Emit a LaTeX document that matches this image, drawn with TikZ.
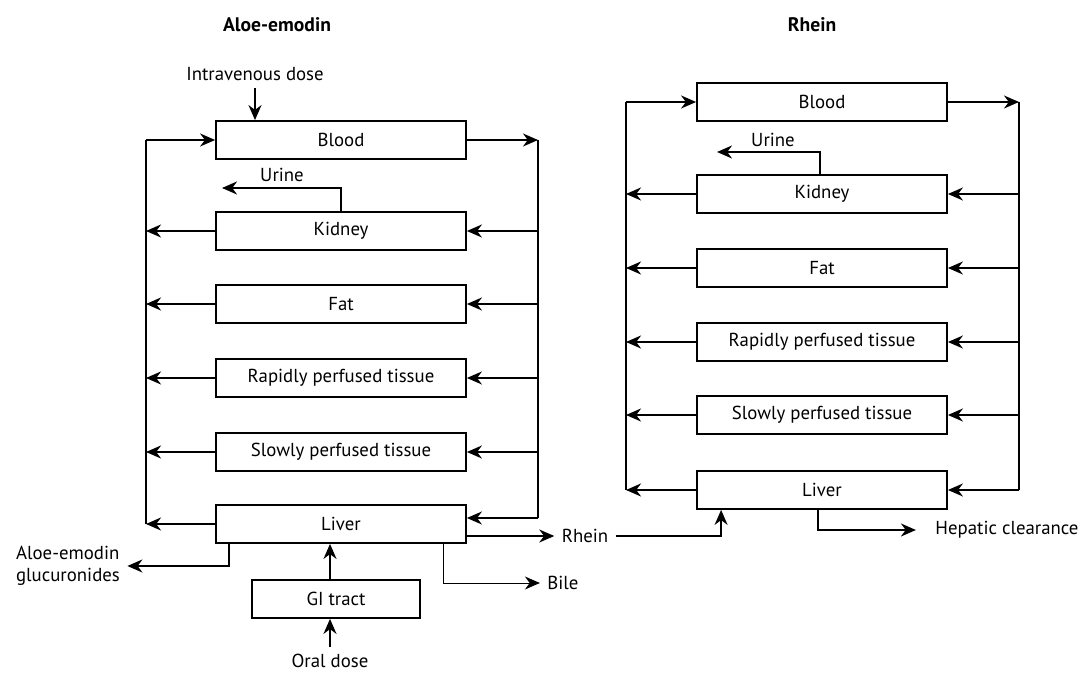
\documentclass[tikz,border=0pt]{standalone}
\usepackage{fontspec}
\setmainfont{PT Sans}
\usetikzlibrary{calc,arrows.meta}

\begin{document}
\begin{tikzpicture}[x=0.5pt,y=-0.5pt,line width=0.9pt,
  font=\fontsize{9.4}{11.2}\selectfont,
  organ/.style={draw,minimum width=125pt,minimum height=19pt,inner sep=0pt},
  flow/.style={-{Stealth[length=7.5pt,width=6.5pt,inset=2.4pt]}}]
  \useasboundingbox (0,0) rectangle (1081,673);

  % Titles
  \node[font=\fontsize{9.8}{11.2}\selectfont\bfseries] (titleA) at (277,25) {Aloe-emodin};
  \node[font=\fontsize{9.8}{11.2}\selectfont\bfseries] (titleB) at (812,25) {Rhein};

  % Define the compartments of both models
  \foreach \name/\y [count=\i] in {Blood/140,Kidney/231,Fat/304,
      Rapidly perfused tissue/378,Slowly perfused tissue/452,Liver/524} {
    \node[organ] (A\i) at (341,\y) {\name};
  }
  \foreach \name/\y [count=\i] in {Blood/102,Kidney/194,Fat/268,
      Rapidly perfused tissue/342,Slowly perfused tissue/415,Liver/490} {
    \node[organ] (B\i) at (822,\y) {\name};
  }

  % Define the ends of the venous and arterial lines
  \coordinate (LA) at (146,140);
  \coordinate (RA) at (538,140);
  \coordinate (LB) at (626,102);
  \coordinate (RB) at (1019,102);

  % Draw the lines
  \draw (LA) -- (LA |- A6.east);
  \draw (RA) -- ([yshift=3pt]RA |- A6.east);
  \draw (LB) -- (LB |- B6.east);
  \draw (RB) -- (RB |- B6.east);

  % Draw the flows through blood and the tissues
  \draw[flow] (LA) -- (A1.west);
  \draw[flow] (A1.east) -- (RA);
  \draw[flow] (LB) -- (B1.west);
  \draw[flow] (B1.east) -- (RB);
  \foreach \i in {2,...,6} {
    \draw[flow] (A\i.west) -- (A\i.west -| LA);
    \draw[flow] (B\i.west) -- (B\i.west -| LB);
    \draw[flow] (B\i.east -| RB) -- (B\i.east);
  }
  \foreach \i in {2,...,5}
    \draw[flow] (A\i.east -| RA) -- (A\i.east);
  \draw[flow] ([yshift=3pt]A6.east -| RA) -- ([yshift=3pt]A6.east);

  % Urine
  \node (urineA) at (282,175) {Urine};
  \node (urineB) at (773,140) {Urine};
  \coordinate (UA) at (222,188);
  \coordinate (UB) at (717,152);
  \draw[flow] (A2.north) |- (UA);
  \draw[flow] ([xshift=-1pt]B2.north) |- (UB);

  % Doses
  \node (iv) at (255,74) {Intravenous dose};
  \draw[flow] (iv.south) -- (iv.south |- A1.north);
  \node[draw,minimum width=84pt,minimum height=19pt,inner sep=0pt] (gi) at (336,599) {GI tract};
  \node (oral) at (330,661) {Oral dose};
  \draw[flow] (oral.north) -- (oral.north |- gi.south);
  \draw[flow] ([xshift=-3pt]gi.north) -- ([xshift=-3pt]gi.north |- A6.south);

  % Elimination from the liver
  \node[align=left] (glu) at (68,566) {Aloe-emodin\\glucuronides};
  \draw[flow] ([xshift=7pt]A6.south west) |- (glu.east);
  \node (bile) at (563,583) {Bile};
  \draw[flow,line width=0.5pt] ([xshift=-11.5pt]A6.south east) |- (bile.west);
  \node (rhein) at (585,536) {Rhein};
  \draw[flow] (rhein.west -| A6.east) -- (rhein.west);
  \draw[flow] (rhein.east) -| ([xshift=12.5pt]B6.south west);
  \node (hep) at (1007,530) {Hepatic clearance};
  \draw[flow,shorten >=6pt] ([xshift=-2pt]B6.south) |- (hep.west);

\end{tikzpicture}
\end{document}
